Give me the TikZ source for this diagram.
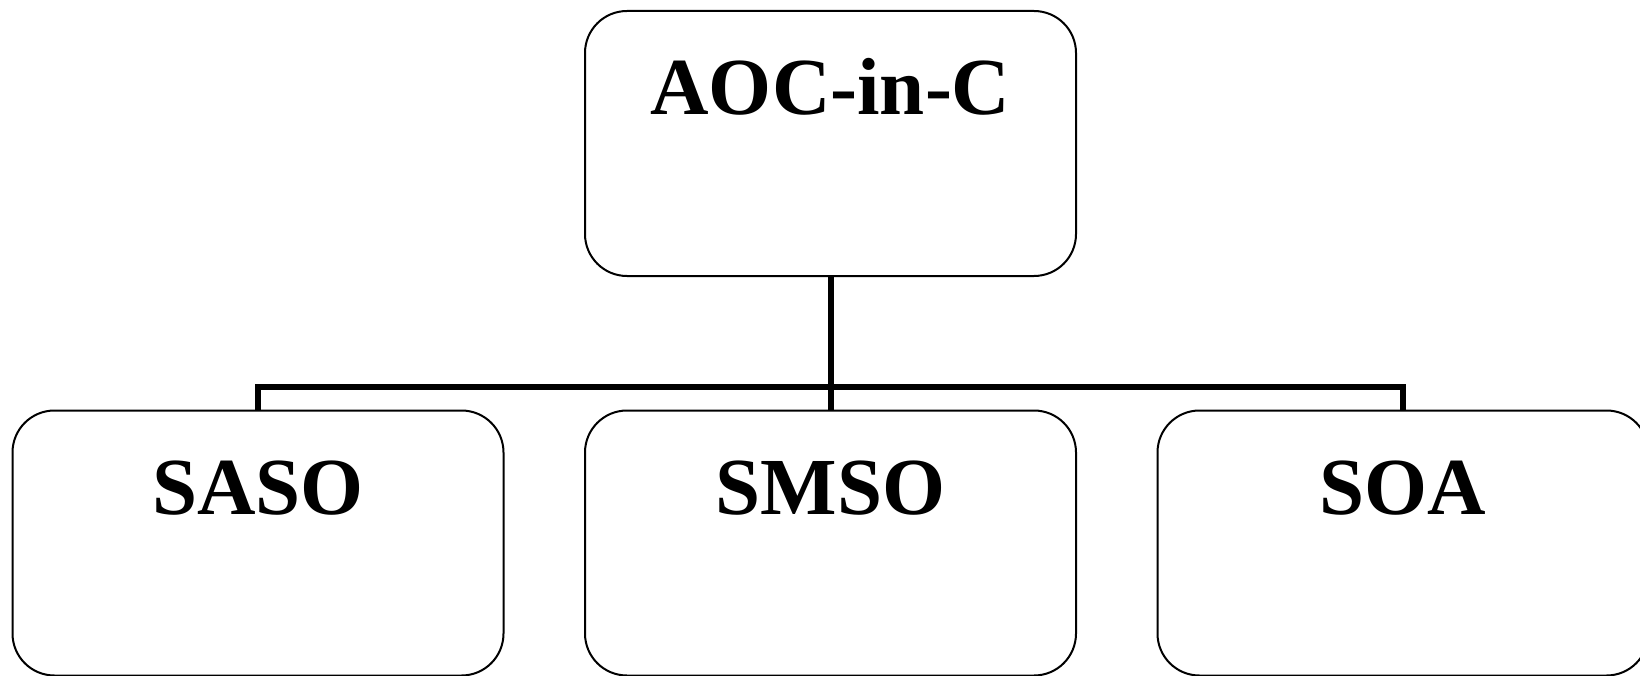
\documentclass[tikz,border=0pt]{standalone}
\usepackage{fontspec}
\setmainfont{Liberation Serif}
\begin{document}
\begin{tikzpicture}[x=1pt,y=-1pt,
  orgbox/.style={draw=black, line width=2pt, rounded corners=42pt, inner sep=0pt,
    text width=491pt, align=center, text height=104pt, text depth=161pt,
    font=\fontsize{81}{95}\selectfont\bfseries},
  conn/.style={draw=black, line width=6pt, line join=miter}]
\useasboundingbox (0,0) rectangle (1640,676);
\clip (0,0) rectangle (1640,676);
\node[orgbox] (aoc) at (830.5,143.5) {AOC-in-C};
\node[orgbox] (saso) at (258,543) {SASO};
\node[orgbox] (smso) at (830.5,543) {SMSO};
\node[orgbox] (soa) at (1403,543) {SOA};
\coordinate (bus) at (830.5,387);
\draw[conn] (aoc.south) -- (bus);
\draw[conn] (saso.north) |- (bus) -| (soa.north);
\draw[conn] (bus) -- (smso.north);
\end{tikzpicture}
\end{document}
